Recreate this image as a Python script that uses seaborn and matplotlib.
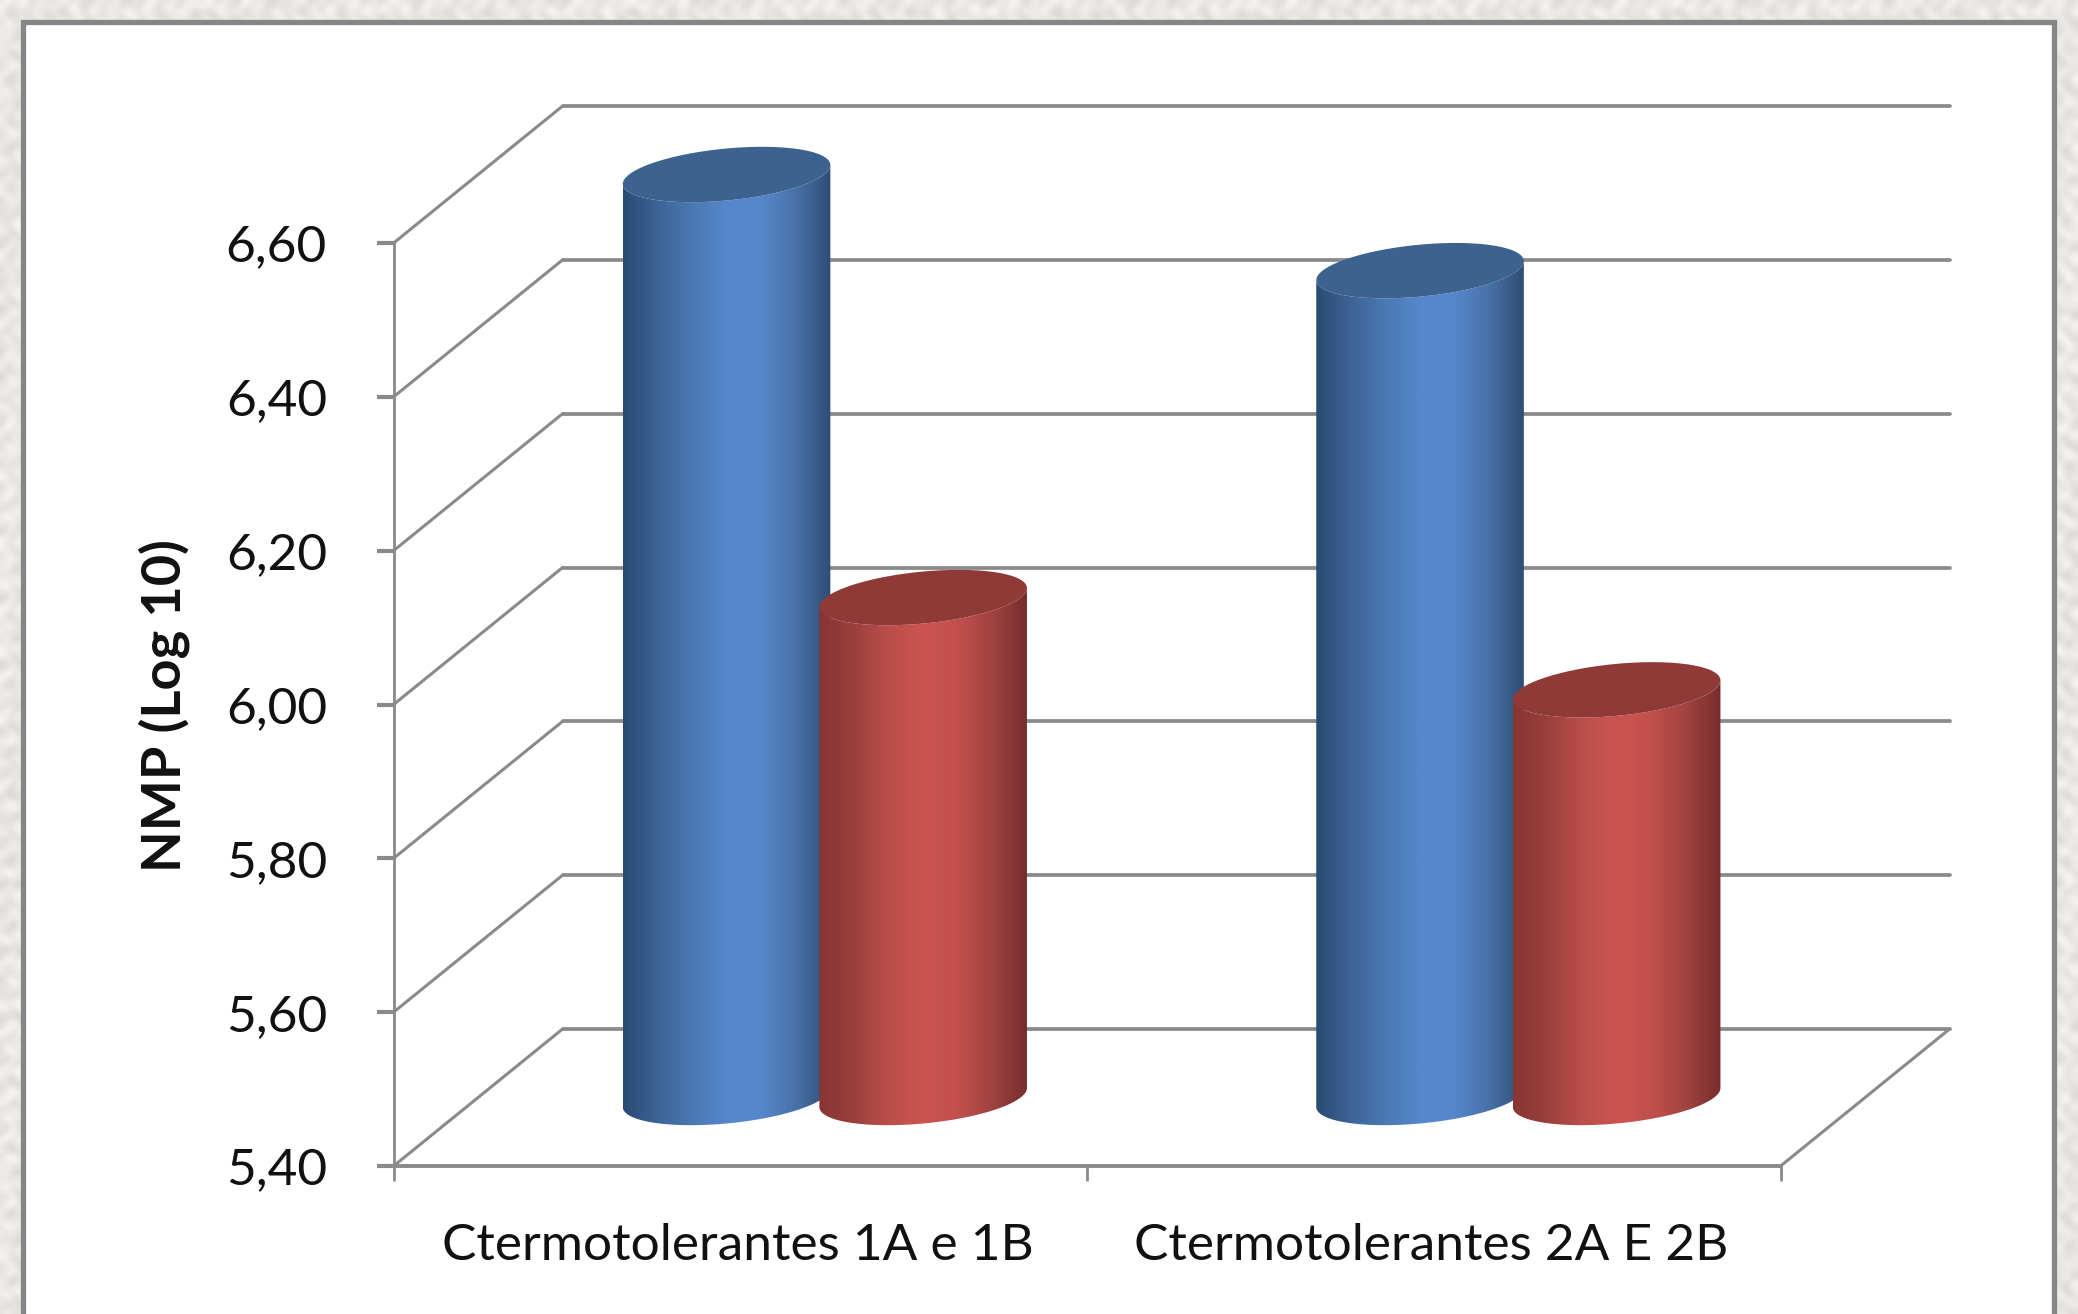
import matplotlib
matplotlib.use("Agg")
import matplotlib.pyplot as plt
from matplotlib.colors import LinearSegmentedColormap
from matplotlib.patches import Polygon, Rectangle
from matplotlib.transforms import ScaledTranslation
import numpy as np
import pandas as pd
import seaborn as sns

# Chart values
categorias = ["Ctermotolerantes 1A e 1B", "Ctermotolerantes 2A E 2B"]
serie_a = [6.60, 6.475]
serie_b = [6.05, 5.93]
y_ticks = [5.40, 5.60, 5.80, 6.00, 6.20, 6.40, 6.60]
y_tick_labels = ["5,40", "5,60", "5,80", "6,00", "6,20", "6,40", "6,60"]
y_titulo = "NMP (Log 10)"

# Shading across the cylinders and the colour of their lids
stops_azul = ["#2a4a72", "#3d6496", "#4a79b3", "#5687cc", "#5687cc", "#4872a8", "#2f4d75"]
stops_verm = ["#873533", "#9a403d", "#bb4f4c", "#cc5450", "#c2504d", "#a04341", "#772d2c"]
lid_azul = "#3c628f"
lid_verm = "#8f3a37"
CINZA = "#8a8a8a"
FONTE = "Lato"

W, H = 2078, 1314
sns.set_theme(style="white")
plt.rcParams["font.family"] = [FONTE, "DejaVu Sans"]

fig = plt.figure(figsize=(W / 100, H / 100), dpi=100, facecolor="#ebe9e5")

# Mottled paper texture behind the chart area
fundo = fig.add_axes([0, 0, 1, 1], zorder=-2)
yy, xx = np.mgrid[0:H // 4, 0:W // 4]
manchas = (np.sin(xx * 1.37 + 2.1 * np.sin(yy * 0.71)) +
           np.sin(yy * 1.13 + 1.7 * np.sin(xx * 0.53)) +
           np.sin((xx + yy) * 0.41 + 2.3 * np.cos(xx * 0.29 - yy * 0.37)))
fundo.imshow(manchas, cmap=LinearSegmentedColormap.from_list("papel", ["#dcdad5", "#f6f5f2"]),
             aspect="auto", interpolation="bilinear")
fundo.set_axis_off()

# White chart area with a grey border; it runs past the bottom edge of the figure
fig.add_artist(Rectangle((23 / W, -0.05), (2054 - 23) / W, 1.05 - 22 / H,
                         transform=fig.transFigure, facecolor="white",
                         edgecolor="#868686", linewidth=3.8, zorder=-1))

ax = fig.add_axes([393.6 / W, 1 - 1166 / H, 1387 / W, 923 / H])
ax.patch.set_visible(False)

dados = pd.DataFrame({
    "Amostra": categorias * 2,
    "NMP": serie_a + serie_b,
    "Serie": ["A"] * len(serie_a) + ["B"] * len(serie_b),
})
sns.barplot(data=dados, x="Amostra", y="NMP", hue="Serie", hue_order=["A", "B"],
            width=0.567, gap=0, palette=[stops_azul[3], stops_verm[3]],
            legend=False, ax=ax)

ax.set_xlim(-0.5, 1.5)
ax.set_ylim(y_ticks[0], y_ticks[-1])

# Size of one pixel in data units, and the slant of the box's depth axis
px_x = 2.0 / 1387
px_y = (y_ticks[-1] - y_ticks[0]) / 923
prof_x = 169 * px_x
prof_y = 137 * px_y

# Back wall, side wall and floor
for v in y_ticks:
    ax.plot([-0.5, -0.5 + prof_x], [v, v + prof_y], color=CINZA, lw=2.2,
            clip_on=False, zorder=1, solid_capstyle="round")
    ax.plot([-0.5 + prof_x, 1.5 + prof_x], [v + prof_y, v + prof_y], color=CINZA,
            lw=2.7, clip_on=False, zorder=1)
ax.plot([1.5, 1.5 + prof_x], [y_ticks[0], y_ticks[0] + prof_y], color=CINZA, lw=2.2,
        clip_on=False, zorder=1)

# Cylinder geometry
ALARGA = 208 / 197
INCL = 9.5 * px_y
SEMI_B = 26 * px_y
t = np.linspace(0, 2 * np.pi, 181)


def elipse(cx, cy, a, ang):
    return (cx + a * np.cos(ang), cy + INCL * np.cos(ang) + SEMI_B * np.sin(ang))


def cilindro(barra, stops, lid, zorder):
    cx = barra.get_x() + barra.get_width() / 2 + prof_x / 2
    a = barra.get_width() / 2 * ALARGA
    base = y_ticks[0] + prof_y / 2
    topo = barra.get_height() + prof_y / 2

    frente = np.linspace(np.pi, 2 * np.pi, 91)
    xb, yb = elipse(cx, base, a, frente)
    xt, yt = elipse(cx, topo, a, frente[::-1])
    contorno = np.column_stack([np.r_[xb, xt], np.r_[yb, yt]])

    cmap = LinearSegmentedColormap.from_list("cil", stops)
    im = ax.imshow(np.linspace(0, 1, 256)[None, :], cmap=cmap, aspect="auto",
                   extent=[cx - a, cx + a, base - 60 * px_y, topo + 60 * px_y],
                   interpolation="bilinear", zorder=zorder)
    im.set_clip_box(fig.bbox)
    im.set_clip_path(Polygon(contorno, closed=True, transform=ax.transData))

    xl, yl = elipse(cx, topo, a, t)
    ax.fill(xl, yl, color=lid, lw=0, clip_on=False, zorder=zorder + 0.1)


barras = [p for p in ax.patches if p.get_height() > 0]
n = len(categorias)
for i, p in enumerate(barras):
    azul = i < n
    cilindro(p, stops_azul if azul else stops_verm, lid_azul if azul else lid_verm,
             3 if azul else 4)
    p.set_visible(False)
ax.set_xlim(-0.5, 1.5)
ax.set_ylim(y_ticks[0], y_ticks[-1])

# Axes, ticks and labels
sns.despine(ax=ax, top=True, right=True)
ax.spines["left"].set_color(CINZA)
ax.spines["left"].set_linewidth(2.0)
ax.spines["bottom"].set_color(CINZA)
ax.spines["bottom"].set_linewidth(2.8)

ax.set_yticks(y_ticks)
ax.set_yticklabels(y_tick_labels)
ax.tick_params(axis="y", left=True, length=12, width=3.0, color=CINZA, pad=36,
               labelsize=37, labelcolor="#111111")
ax.set_xticks([0, 1])
ax.set_xticklabels(categorias)
ax.set_xticks([-0.5, 0.5, 1.5], minor=True)
ax.tick_params(axis="x", which="major", bottom=False, length=0, pad=41,
               labelsize=37, labelcolor="#111111")
ax.tick_params(axis="x", which="minor", bottom=True, length=11, width=2.0, color=CINZA)
desloca = ScaledTranslation(-2 / 72, 0, fig.dpi_scale_trans)
for rotulo in ax.get_xticklabels():
    rotulo.set_transform(rotulo.get_transform() + desloca)
ax.set_xlabel("")
ax.set_ylabel(y_titulo, fontsize=39, fontweight="bold", color="#111111")
ax.yaxis.set_label_coords((190 - 393.6) / 1387, (1166 - 706) / 923)

fig.savefig("out.png", dpi=100, facecolor=fig.get_facecolor())
